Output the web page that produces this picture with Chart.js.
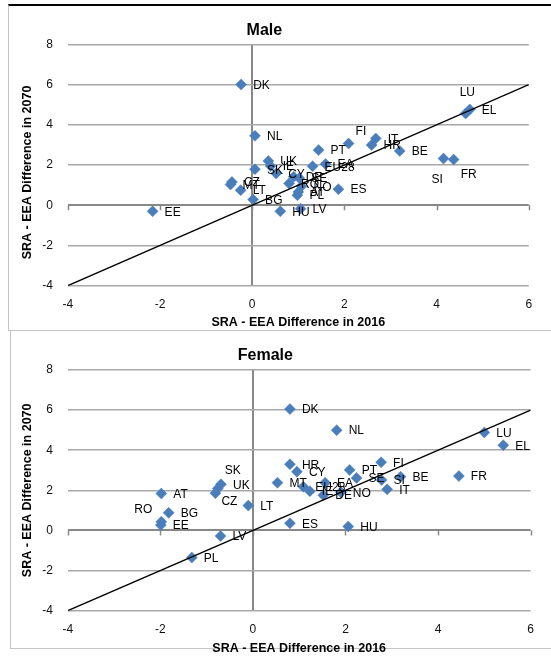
<!DOCTYPE html>
<html>
<head>
<meta charset="utf-8">
<title>SRA - EEA Difference, 2016 vs 2070</title>
<script src="https://cdn.jsdelivr.net/npm/chart.js@4.4.1/dist/chart.umd.min.js"></script>
<style>
  html, body { margin: 0; padding: 0; background: #fff; overflow: hidden; }
  #page { position: relative; width: 551px; height: 657px; }
  .frame { position: absolute; box-sizing: border-box; }
  #frameTop { left: 8px; top: 4px; width: 600px; height: 327px;
              border-top: 2px solid #000; border-left: 1px solid #c4c4c4; border-bottom: 1px solid #c4c4c4; }
  #frameBottom { left: 10px; top: 331px; width: 600px; height: 318px;
                 border-left: 1px solid #c4c4c4; border-bottom: 1px solid #c4c4c4; }
  canvas { position: absolute; left: 0; }
  #maleChart { top: 0; }
  #femaleChart { top: 331px; }
</style>
</head>
<body>
<div id="page">
  <div class="frame" id="frameTop"></div>
  <div class="frame" id="frameBottom"></div>
  <canvas id="maleChart" width="551" height="331"></canvas>
  <canvas id="femaleChart" width="551" height="326"></canvas>
</div>
<script>
// ---- Data: gap between statutory retirement age and effective exit age ----
const maleCountries = ['DK','NL','EE','LU','EL','SI','FR','BE','HR','IT','FI','PT','ES','HU','LV','PL',
                       'CZ','MT','LT','BG','SK','UK','IE','CY','DE','SE','RO','NO','AT','EU28','EA'];
const male2016 = [-0.24, 0.06, -2.16, 4.63, 4.72, 4.15, 4.37, 3.2, 2.59, 2.68, 2.09, 1.44, 1.87, 0.61, 1.05, 0.98,
                  -0.44, -0.47, -0.25, 0.02, 0.06, 0.35, 0.4, 0.52, 0.9, 1.02, 0.8, 1.07, 1.0, 1.31, 1.59];
const male2070 = [6.0, 3.45, -0.3, 4.56, 4.76, 2.32, 2.27, 2.7, 2.99, 3.32, 3.07, 2.74, 0.8, -0.3, -0.17, 0.5,
                  1.16, 1.03, 0.75, 0.28, 1.79, 2.2, 1.95, 1.58, 1.41, 1.35, 1.08, 0.94, 0.66, 1.94, 2.05];

const femaleCountries = ['DK','NL','LU','EL','FR','BE','SI','IT','FI','PT','SE','EA','EU28','IE','DE','NO',
                         'HR','CY','MT','HU','ES','LT','UK','SK','CZ','AT','RO','EE','BG','LV','PL'];
const female2016 = [0.8, 1.81, 5.0, 5.41, 4.45, 3.19, 2.78, 2.9, 2.77, 2.09, 2.24, 1.56, 1.09, 1.23, 1.52, 1.9,
                    0.8, 0.95, 0.53, 2.06, 0.8, -0.1, -0.69, -0.76, -0.81, -1.98, -1.98, -1.99, -1.82, -0.7, -1.32];
const female2070 = [6.05, 5.0, 4.89, 4.25, 2.71, 2.68, 2.52, 2.05, 3.4, 3.02, 2.62, 2.38, 2.18, 1.96, 1.76, 1.9,
                    3.3, 2.93, 2.38, 0.2, 0.36, 1.24, 2.3, 2.09, 1.86, 1.84, 0.43, 0.27, 0.88, -0.27, -1.35];

const xTicks = [-4, -2, 0, 2, 4, 6];
const yTicks = [-4, -2, 0, 2, 4, 6, 8];
const diagonalEnds = [-4, 6];   // the 45-degree reference line y = x

const xTitle = 'SRA - EEA Difference in 2016';
const yTitle = 'SRA - EEA Difference in 2070';

// ---- Drawing ----
const FONT = "'Liberation Sans', Arial, sans-serif";
Chart.defaults.font.family = FONT;
Chart.defaults.color = '#000';

const MARKER = '#4a7ebb';

// Point labels sit to the right of each marker unless nudged here
const labelNudge = {
  male:   { LU: [-6, -21], SI: [-12, 21], FR: [7, 15], FI: [7, -12] },
  female: { RO: [-27, -12], SK: [7, -18], CZ: [6, 9] }
};

const pointLabels = {
  id: 'pointLabels',
  afterDatasetsDraw(chart, args, opts) {
    const ctx = chart.ctx;
    const meta = chart.getDatasetMeta(1);
    ctx.save();
    ctx.font = '12px ' + FONT;
    ctx.fillStyle = '#000';
    ctx.textBaseline = 'middle';
    ctx.textAlign = 'left';
    meta.data.forEach((pt, i) => {
      const name = opts.names[i];
      const d = opts.nudge[name] || [12, 1];
      ctx.fillText(name, pt.x + d[0], pt.y + d[1]);
    });
    ctx.restore();
  }
};

const axisDecor = {
  id: 'axisDecor',
  beforeDatasetsDraw(chart) {
    // small tick marks hanging below the zero line
    const {ctx, scales: {x, y}} = chart;
    const y0 = y.getPixelForValue(0);
    ctx.save();
    ctx.strokeStyle = '#888';
    ctx.lineWidth = 1.5;
    xTicks.forEach(v => {
      const px = Math.round(x.getPixelForValue(v)) + 0.5;
      ctx.beginPath();
      ctx.moveTo(px, y0);
      ctx.lineTo(px, y0 + 5);
      ctx.stroke();
    });
    ctx.restore();
  },
  afterDraw(chart, args, opts) {
    // vertical axis title
    const {ctx, chartArea} = chart;
    ctx.save();
    ctx.font = 'bold 12.5px ' + FONT;
    ctx.fillStyle = '#000';
    ctx.textAlign = 'center';
    ctx.textBaseline = 'middle';
    ctx.translate(opts.titleX, (chartArea.top + chartArea.bottom) / 2 + opts.shift);
    ctx.rotate(-Math.PI / 2);
    ctx.fillText(yTitle, 0, 0);
    ctx.restore();
  }
};

function makePanel(canvasId, title, names, xs, ys, geo) {
  const points = xs.map((v, i) => ({x: v, y: ys[i]}));
  const diag = diagonalEnds.map(v => ({x: v, y: v}));
  return new Chart(document.getElementById(canvasId), {
    type: 'scatter',
    data: {
      datasets: [
        { label: 'y = x', data: diag, showLine: true, borderColor: '#000', borderWidth: 1.3,
          pointRadius: 0, fill: false },
        { label: title, data: points, pointStyle: 'rectRot', pointRadius: 5.5, pointHoverRadius: 5.5,
          backgroundColor: MARKER, borderColor: MARKER, borderWidth: 0.5 }
      ]
    },
    options: {
      responsive: false,
      animation: false,
      events: [],
      layout: { padding: { left: 0, right: geo.right, top: 0, bottom: 0 } },
      plugins: {
        legend: { display: false },
        tooltip: { enabled: false },
        title: { display: true, text: title, color: '#000',
                 font: { size: 16, weight: 'bold', family: FONT },
                 padding: { top: geo.titleTop, bottom: geo.titleBottom } },
        pointLabels: { names: names, nudge: geo.nudge },
        axisDecor: { titleX: 27.5, shift: geo.yTitleShift }
      },
      scales: {
        x: {
          type: 'linear', min: -4, max: 6,
          afterBuildTicks: s => { s.ticks = xTicks.map(v => ({value: v})); },
          afterFit: s => { s.height = geo.xHeight; },
          grid: { drawTicks: false,
                  color: c => (c.tick && c.tick.value === 0) ? '#888' : 'rgba(0,0,0,0)',
                  lineWidth: 2 },
          border: { display: false },
          ticks: { padding: geo.xTickPad, color: '#111', font: { size: 12 } },
          title: { display: true, text: xTitle, color: '#000',
                   font: { size: 12.5, weight: 'bold', family: FONT },
                   padding: { top: 0, bottom: geo.xTitleBottom } }
        },
        y: {
          type: 'linear', min: -4, max: 8,
          afterBuildTicks: s => { s.ticks = yTicks.map(v => ({value: v})); },
          afterFit: s => { s.width = 67.8; },
          grid: { drawTicks: false,
                  color: c => (c.tick && c.tick.value === 0) ? '#888' : '#a8a8a8',
                  lineWidth: c => (c.tick && c.tick.value === 0) ? 2 : 1.5 },
          border: { display: false },
          ticks: { padding: 15, color: '#111', font: { size: 12 } }
        }
      }
    },
    plugins: [axisDecor, pointLabels]
  });
}

makePanel('maleChart', 'Male', maleCountries, male2016, male2070, {
  right: 22.2, titleTop: 21.4, titleBottom: 3.7, xHeight: 45.3, xTickPad: 11.4,
  xTitleBottom: 0.5, yTitleShift: 7.5, nudge: labelNudge.male
});

makePanel('femaleChart', 'Female', femaleCountries, female2016, female2070, {
  right: 20.4, titleTop: 15.1, titleBottom: 4.7, xHeight: 46.3, xTickPad: 12.1,
  xTitleBottom: 0.5, yTitleShift: 0, nudge: labelNudge.female
});
</script>
</body>
</html>
